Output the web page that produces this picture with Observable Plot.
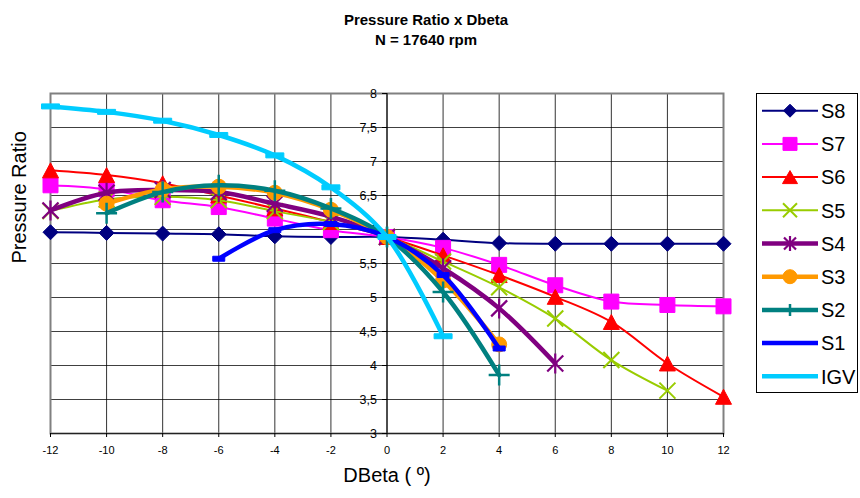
<!DOCTYPE html>
<html><head><meta charset="utf-8">
<script src="https://cdn.jsdelivr.net/npm/d3@7"></script>
<script src="https://cdn.jsdelivr.net/npm/@observablehq/plot@0.6"></script>
<style>
body{margin:0;background:#fff;}
#wrap{position:relative;width:860px;height:498px;font-family:"Liberation Sans",Arial,sans-serif;}
#wrap svg.legend{position:absolute;left:0;top:0;pointer-events:none;}
</style></head><body><div id="wrap"></div>
<script>
// ---------- data ----------
const dbeta = [-12,-10,-8,-6,-4,-2,0,2,4,6,8,10,12];
const xTickLabels = ["-12","-10","-8","-6","-4","-2","0","2","4","6","8","10","12"];
const yTicks = [3,3.5,4,4.5,5,5.5,6,6.5,7,7.5,8];
const yTickLabels = ["3","3,5","4","4,5","5","5,5","6","6,5","7","7,5","8"];
const seriesNames = ["S8","S7","S6","S5","S4","S3","S2","S1","IGV"];
const s8  = [5.96,5.95,5.94,5.93,5.90,5.89,5.89,5.85,5.80,5.79,5.79,5.79,5.79];
const s7  = [6.65,6.59,6.43,6.33,6.16,5.99,5.89,5.73,5.48,5.18,4.94,4.89,4.87];
const s6  = [6.87,6.80,6.68,6.50,6.31,6.11,5.89,5.62,5.33,5.01,4.64,4.03,3.54];
const s5  = [6.27,6.44,6.48,6.43,6.27,6.11,5.89,5.53,5.15,4.69,4.08,3.63,null];
const s4  = [6.28,6.54,6.58,6.55,6.38,6.19,5.89,5.43,4.84,4.03,null,null,null];
const s3  = [null,6.38,6.59,6.63,6.54,6.29,5.89,5.25,4.31,null,null,null,null];
const s2  = [null,6.24,6.55,6.65,6.57,6.31,5.89,5.08,3.86,null,null,null,null];
const s1  = [null,null,null,5.57,5.99,6.08,5.89,5.33,4.25,null,null,null,null];
const igv = [7.81,7.73,7.60,7.39,7.09,6.62,5.89,4.43,null,null,null,null,null];
const seriesValues = [s8,s7,s6,s5,s4,s3,s2,s1,igv];
const titleLines = ["Pressure Ratio x Dbeta","N = 17640 rpm"];
const xTitle = "DBeta ( º)";
const yTitle = "Pressure Ratio";

// ---------- styles ----------
function rectSym(w,h){return {draw(c){c.rect(-w/2,-h/2,w,h);}};}
function triSym(w,h){return {draw(c){c.moveTo(0,-h/2);c.lineTo(w/2,h/2);c.lineTo(-w/2,h/2);c.closePath();}};}
function diaSym(w){return {draw(c){c.moveTo(0,-w/2);c.lineTo(w/2,0);c.lineTo(0,w/2);c.lineTo(-w/2,0);c.closePath();}};}
function timesSym(w){return {draw(c){const r=w/2;c.moveTo(-r,-r);c.lineTo(r,r);c.moveTo(-r,r);c.lineTo(r,-r);}};}
function plusSym(w){return {draw(c){const r=w/2;c.moveTo(-r,0);c.lineTo(r,0);c.moveTo(0,-r);c.lineTo(0,r);}};}
function starSym(w){return {draw(c){const r=w/2,d=r*0.8;c.moveTo(0,-r);c.lineTo(0,r);c.moveTo(-d,-d);c.lineTo(d,d);c.moveTo(-d,d);c.lineTo(d,-d);}};}
function circSym(w){return {draw(c){c.moveTo(w/2,0);c.arc(0,0,w/2,0,2*Math.PI);}};}
const tickSym = {draw(c){c.moveTo(-5,0);c.lineTo(0,0);}};

const styles = [
  {color:"#000080", lw:2,   sym:diaSym(15),      lsym:diaSym(13),      fill:true},
  {color:"#FF00FF", lw:2,   sym:rectSym(15,15),  lsym:rectSym(14,13),  fill:true},
  {color:"#FF0000", lw:2,   sym:triSym(16,15),   lsym:triSym(15,13),   fill:true},
  {color:"#99CC00", lw:2,   sym:timesSym(16),    lsym:timesSym(14),    fill:false, sw:2},
  {color:"#800080", lw:4.5, sym:starSym(20),     lsym:starSym(15),     fill:false, sw:2.2},
  {color:"#FF9900", lw:4.5, sym:circSym(15),     lsym:circSym(14),     fill:true},
  {color:"#008080", lw:4.5, sym:plusSym(21),     lsym:plusSym(12),     fill:false, sw:2.5},
  {color:"#0000FF", lw:4.5, sym:rectSym(12,5),   lsym:rectSym(12,5),   fill:true},
  {color:"#00CCFF", lw:4.5, sym:rectSym(18,5),   lsym:rectSym(18,5),   fill:true}
];

// ---------- marks ----------
const seriesMarks = [];
seriesNames.forEach((name,i)=>{
  const rows = dbeta.map((x,j)=>({x, y:seriesValues[i][j], name})).filter(d=>d.y!=null);
  const st = styles[i];
  seriesMarks.push(Plot.line(rows,{x:"x",y:"y",stroke:st.color,strokeWidth:st.lw,curve:"catmull-rom",strokeLinejoin:"round"}));
  seriesMarks.push(Plot.dot(rows,{x:"x",y:"y",symbol:()=>st.sym,r:5,
    fill: st.fill ? st.color : "none", stroke: st.color, strokeWidth: st.fill ? 1 : st.sw}));
});

const chart = Plot.plot({
  width:860, height:498,
  marginLeft:50, marginRight:137, marginTop:93, marginBottom:65,
  style:{fontFamily:"'Liberation Sans', Arial, sans-serif", background:"#fff", color:"#000"},
  x:{domain:[-12,12], axis:null},
  y:{domain:[3,8], axis:null},
  marks:[
    Plot.gridY(yTicks,{stroke:"#000",strokeOpacity:0.75}),
    Plot.gridX(dbeta,{stroke:"#000",strokeOpacity:0.8}),
    Plot.frame({stroke:"#808080",strokeWidth:2}),
    Plot.ruleY([3],{stroke:"#222"}),
    Plot.ruleX([0],{stroke:"#000"}),
    Plot.dot(yTicks,{x:0,y:d=>d,symbol:()=>tickSym,fill:"none",stroke:"#000",strokeWidth:1}),
    Plot.text(yTicks,{x:0,y:d=>d,text:(d,i)=>yTickLabels[i],dx:-10,textAnchor:"end",fontSize:12.5}),
    Plot.axisX(dbeta,{tickSize:4,tickPadding:9,fontSize:11,label:null,tickFormat:d=>xTickLabels[dbeta.indexOf(d)]}),
    ...seriesMarks,
    Plot.text([xTitle],{text:d=>d,frameAnchor:"bottom",dy:48,fontSize:20}),
    Plot.text([yTitle],{text:d=>d,frameAnchor:"left",dx:-31,rotate:-90,fontSize:20}),
    Plot.text([titleLines[0]],{text:d=>d,frameAnchor:"top",dx:39,dy:-79,fontSize:15,fontWeight:"bold"}),
    Plot.text([titleLines[1]],{text:d=>d,frameAnchor:"top",dx:39,dy:-59,fontSize:15,fontWeight:"bold"})
  ]
});
const wrap = document.getElementById("wrap");
wrap.appendChild(chart);

// ---------- legend ----------
const lg = d3.create("svg").attr("class","legend").attr("width",860).attr("height",498);
lg.append("rect").attr("x",756.5).attr("y",93.5).attr("width",101).attr("height",299)
  .attr("fill","#fff").attr("stroke","#000").attr("stroke-width",1);
seriesNames.forEach((name,i)=>{
  const st = styles[i];
  const y = 110.7 + i*33.2;
  const g = lg.append("g");
  g.append("line").attr("x1",762).attr("x2",818).attr("y1",y).attr("y2",y)
    .attr("stroke",st.color).attr("stroke-width",st.lw);
  if (i < 7) {
    g.append("path").attr("transform",`translate(790,${y})`).attr("d",d3.symbol(st.lsym,64)())
      .attr("fill",st.fill?st.color:"none").attr("stroke",st.color).attr("stroke-width",st.fill?1:(st.sw||2));
  }
  g.append("text").attr("x",821).attr("y",y).attr("dy","0.36em").attr("font-size",20)
    .attr("font-family","'Liberation Sans', Arial, sans-serif").text(name);
});
wrap.appendChild(lg.node());
</script></body></html>
